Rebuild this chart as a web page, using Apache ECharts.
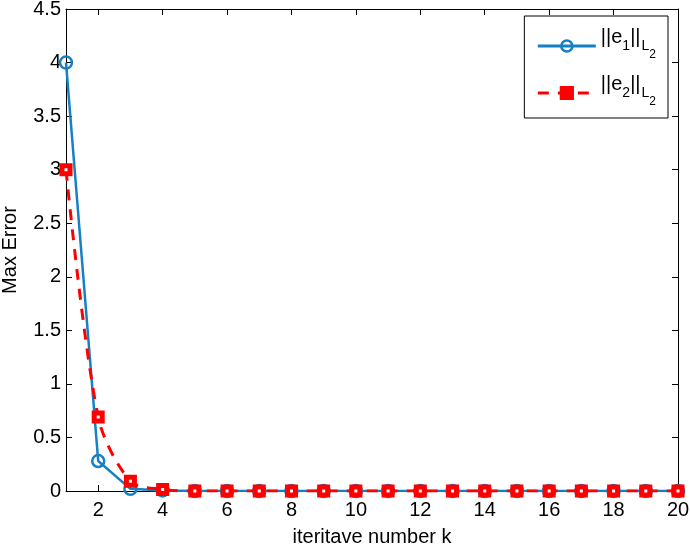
<!DOCTYPE html>
<html>
<head>
<meta charset="utf-8">
<script src="https://cdn.jsdelivr.net/npm/echarts@6/dist/echarts.min.js"></script>
<style>
  html, body { margin: 0; padding: 0; background: #fff; }
  #chart { width: 690px; height: 544px; }
</style>
</head>
<body>
<div id="chart"></div>
<script>
// iteration numbers k
let iterations = [1, 2, 3, 4, 5, 6, 7, 8, 9, 10, 11, 12, 13, 14, 15, 16, 17, 18, 19, 20];
// ||e1||_L2
let errE1 = [4.0, 0.28, 0.02, 0.005, 0, 0, 0, 0, 0, 0, 0, 0, 0, 0, 0, 0, 0, 0, 0, 0];
// ||e2||_L2
let errE2 = [3.0, 0.69, 0.09, 0.015, 0, 0, 0, 0, 0, 0, 0, 0, 0, 0, 0, 0, 0, 0, 0, 0];

const FONT = 'Liberation Sans';
const BLUE = '#1580c4';
const RED = '#ff0000';
const evenOnly = (idx, val) => Number(val) % 2 === 0;

let chartDom = document.getElementById('chart');
let chart = echarts.init(chartDom);

const xCommon = {
  type: 'category',
  data: iterations.map(String),
  boundaryGap: false,
  axisLine: { show: true, onZero: false, lineStyle: { color: '#000', width: 1 } },
  axisTick: { show: true, inside: true, length: 6, interval: evenOnly, lineStyle: { color: '#000' } },
  splitLine: { show: false }
};

const yCommon = {
  type: 'value',
  min: 0,
  max: 4.5,
  interval: 0.5,
  axisLine: { show: true, onZero: false, lineStyle: { color: '#000', width: 1 } },
  axisTick: { show: true, inside: true, length: 6, lineStyle: { color: '#000' } },
  splitLine: { show: false }
};

let option = {
  animation: false,
  textStyle: { fontFamily: FONT },
  grid: { left: 66, right: 12, top: 9, bottom: 53, containLabel: false, outerBoundsMode: 'none' },
  legend: {
    right: 22,
    top: 16,
    orient: 'vertical',
    itemWidth: 58,
    itemHeight: 14,
    itemGap: 13,
    padding: [11, 12, 10, 12],
    borderColor: '#000',
    borderWidth: 1,
    backgroundColor: '#fff',
    data: [
      { name: 'e1', lineStyle: { width: 3, color: BLUE }, itemStyle: { color: 'transparent', borderColor: BLUE, borderWidth: 2.5 } },
      { name: 'e2', lineStyle: { width: 3, color: RED, type: [11, 9] }, itemStyle: { color: RED, borderColor: RED, borderWidth: 3 } }
    ],
    formatter: function (name) {
      let k = name === 'e1' ? '1' : '2';
      return '{n|||e}{s|' + k + '}{n|||}{l|L}{ll|2}';
    },
    textStyle: {
      color: '#000',
      rich: {
        n: { fontSize: 20, fontFamily: FONT, verticalAlign: 'top', lineHeight: 38, padding: [0, 0, 0, 0] },
        s: { fontSize: 14, fontFamily: FONT, verticalAlign: 'top', lineHeight: 38, padding: [12, 0, 0, 0] },
        l: { fontSize: 14, fontFamily: FONT, verticalAlign: 'top', lineHeight: 38, padding: [12, 0, 0, 1] },
        ll: { fontSize: 12, fontFamily: FONT, verticalAlign: 'top', lineHeight: 38, padding: [22, 0, 0, 0] }
      }
    }
  },
  xAxis: [
    Object.assign({}, xCommon, {
      position: 'bottom',
      name: 'iteritave number k',
      nameLocation: 'middle',
      nameGap: 36,
      nameTextStyle: { fontSize: 20, color: '#000', fontFamily: FONT },
      axisLabel: { show: true, interval: evenOnly, fontSize: 20, color: '#000', margin: 9, fontFamily: FONT }
    }),
    Object.assign({}, xCommon, {
      position: 'top',
      axisLabel: { show: false }
    })
  ],
  yAxis: [
    Object.assign({}, yCommon, {
      position: 'left',
      name: 'Max Error',
      nameLocation: 'middle',
      nameGap: 46,
      nameTextStyle: { fontSize: 20, color: '#000', fontFamily: FONT },
      axisLabel: {
        show: true, fontSize: 20, color: '#000', margin: 5, fontFamily: FONT,
        formatter: (v) => String(v)
      }
    }),
    Object.assign({}, yCommon, {
      position: 'right',
      axisLabel: { show: false }
    })
  ],
  series: [
    {
      name: 'e1',
      type: 'line',
      xAxisIndex: 0,
      yAxisIndex: 0,
      data: errE1,
      symbol: 'circle',
      symbolSize: 12,
      showAllSymbol: true,
      color: BLUE,
      lineStyle: { color: BLUE, width: 2.5 },
      itemStyle: { color: 'transparent', borderColor: BLUE, borderWidth: 2.5 },
      z: 2
    },
    {
      name: 'e2',
      type: 'line',
      xAxisIndex: 0,
      yAxisIndex: 0,
      data: errE2,
      smooth: 0.3,
      symbol: 'rect',
      symbolSize: 8,
      showAllSymbol: true,
      color: RED,
      lineStyle: { color: RED, width: 3, type: [11, 9] },
      itemStyle: { color: '#ffffff', borderColor: RED, borderWidth: 5 },
      z: 3
    }
  ]
};

chart.setOption(option, true);
</script>
</body>
</html>
